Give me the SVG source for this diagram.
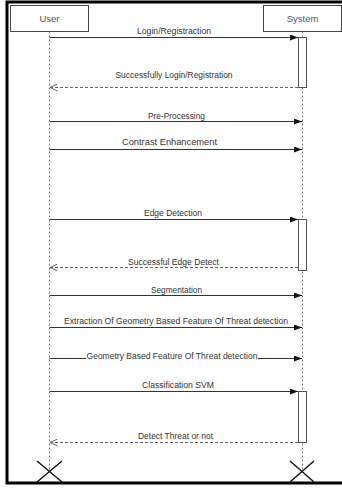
<svg xmlns="http://www.w3.org/2000/svg" width="342" height="488" viewBox="0 0 342 488">
<style>
.frame{fill:none;stroke:#000;stroke-width:3}
.head{fill:#fff;stroke:#444;stroke-width:1}
.htxt{font-family:"Liberation Sans",Arial,sans-serif;font-size:9.5px;fill:#555;text-anchor:middle}
.life{stroke:#555;stroke-width:0.8;stroke-dasharray:2,2;fill:none}
.act{fill:#fff;stroke:#555;stroke-width:1}
.msg{stroke:#333;stroke-width:1;fill:none}
.ret{stroke:#666;stroke-width:1;stroke-dasharray:3,2;fill:none}
.lbl{font-family:"Liberation Sans",Arial,sans-serif;font-size:8.5px;fill:#333;text-anchor:middle}
.x{stroke:#111;stroke-width:1.4;fill:none}
</style>
<defs>
<marker id="fill" viewBox="0 0 8 6" refX="8" refY="3" markerWidth="8" markerHeight="6" markerUnits="userSpaceOnUse" orient="auto">
<path d="M0,0 L8,3 L0,6 Z" fill="#111"/>
</marker>
<marker id="open" viewBox="0 0 8 8" refX="7.5" refY="4" markerWidth="8" markerHeight="8" markerUnits="userSpaceOnUse" orient="auto">
<path d="M0,0.5 L7.5,4 L0,7.5" fill="none" stroke="#666" stroke-width="1"/>
</marker>
</defs>
<rect width="342" height="488" fill="#fff"/>
<path class="frame" d="M343,2 H7 V483 H343"/>
<g id="user">
<rect class="head" x="10.5" y="5.5" width="78" height="26"/>
<text class="htxt" x="49.5" y="21.5">User</text>
<path class="life" d="M49.5,31.5 V471"/>
<path class="x" d="M37,461 L62,482 M62,461 L37,482"/>
</g>
<g id="system">
<rect class="head" x="263.5" y="5.5" width="78" height="26"/>
<text class="htxt" x="302.5" y="21.5">System</text>
<path class="life" d="M302.5,31.5 V471"/>
<rect class="act" x="298.5" y="37.5" width="8" height="50"/>
<rect class="act" x="298.5" y="219.5" width="8" height="51"/>
<rect class="act" x="298.5" y="391.5" width="8" height="51"/>
<path class="x" d="M290,461 L314,482 M314,461 L290,482"/>
</g>
<g id="connectors">
<path class="msg" marker-end="url(#fill)" d="M49.5,37.5 H298"/>
<path class="ret" marker-end="url(#open)" d="M298,87.5 H50"/>
<path class="msg" marker-end="url(#fill)" d="M49.5,121.5 H302"/>
<path class="msg" marker-end="url(#fill)" d="M49.5,149.5 H302"/>
<path class="msg" marker-end="url(#fill)" d="M49.5,219.5 H298"/>
<path class="ret" marker-end="url(#open)" d="M298,267.5 H50"/>
<path class="msg" marker-end="url(#fill)" d="M49.5,295.5 H302"/>
<path class="msg" marker-end="url(#fill)" d="M49.5,327.5 H302"/>
<path class="msg" marker-end="url(#fill)" d="M49.5,358.5 H302"/>
<path class="msg" marker-end="url(#fill)" d="M49.5,391.5 H298"/>
<path class="ret" marker-end="url(#open)" d="M298,442.5 H50"/>
</g>
<g id="labels">
<text class="lbl" x="174" y="34" textLength="74" lengthAdjust="spacingAndGlyphs">Login/Registraction</text>
<text class="lbl" x="174" y="78" textLength="117" lengthAdjust="spacingAndGlyphs">Successfully Login/Registration</text>
<text class="lbl" x="176.5" y="118.5" textLength="57" lengthAdjust="spacingAndGlyphs">Pre-Processing</text>
<text class="lbl" x="169.5" y="145" textLength="95" lengthAdjust="spacingAndGlyphs" style="font-size:9.3px">Contrast Enhancement</text>
<text class="lbl" x="173" y="215.5" textLength="58" lengthAdjust="spacingAndGlyphs">Edge Detection</text>
<text class="lbl" x="173.5" y="264.5" textLength="91" lengthAdjust="spacingAndGlyphs">Successful Edge Detect</text>
<text class="lbl" x="176.5" y="293" textLength="51" lengthAdjust="spacingAndGlyphs">Segmentation</text>
<text class="lbl" x="176" y="323.5" textLength="224" lengthAdjust="spacingAndGlyphs">Extraction Of Geometry Based Feature Of Threat detection</text>
<rect x="86" y="350" width="172" height="11" fill="#fff"/>
<text class="lbl" x="172" y="358.5" textLength="171" lengthAdjust="spacingAndGlyphs">Geometry Based Feature Of Threat detection</text>
<text class="lbl" x="178" y="387.5" textLength="72" lengthAdjust="spacingAndGlyphs">Classification SVM</text>
<text class="lbl" x="175.5" y="439" textLength="75" lengthAdjust="spacingAndGlyphs">Detect Threat or not</text>
</g>
</svg>
